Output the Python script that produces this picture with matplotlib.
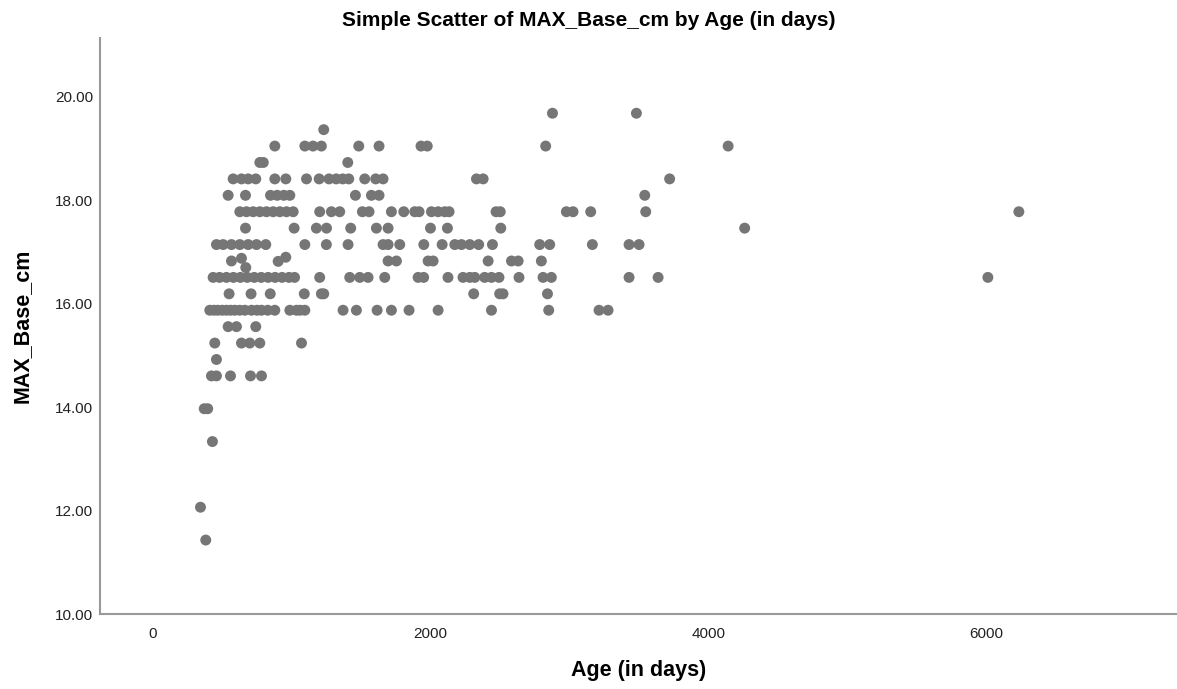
import matplotlib
matplotlib.use("Agg")
import matplotlib.pyplot as plt
import numpy as np

plt.rcParams['font.family'] = ['Liberation Sans', 'DejaVu Sans']

# MAX_Base_cm levels (1/8 inch steps) and the ages (days) observed at each level
age_19_685 = [2876, 3480]
age_19_368 = [1230]
age_19_050 = [878, 1094, 1153, 1213, 1482, 1628, 1930, 1975, 2827, 4140]
age_18_733 = [770, 795, 1403]
age_18_415 = [578, 638, 686, 741, 878, 957, 1106, 1197, 1268, 1320, 1367, 1410,
              1525, 1604, 1657, 2329, 2377, 3719]
age_18_098 = [542, 667, 847, 895, 943, 986, 1458, 1573, 1628, 3540]
age_17_780 = [626, 674, 722, 770, 818, 866, 914, 962, 1010, 1201, 1285, 1345,
              1508, 1556, 1717, 1806, 1885, 1916, 2005, 2053, 2101, 2132, 2470,
              2500, 2976, 3024, 3151, 3547, 6232]
age_17_463 = [667, 1017, 1177, 1250, 1424, 1609, 1693, 1998, 2120, 2504, 4259]
age_17_145 = [458, 506, 566, 626, 686, 746, 813, 1094, 1249, 1405, 1657, 1693,
              1777, 1950, 2082, 2173, 2221, 2281, 2345, 2444, 2784, 2856, 3163,
              3427, 3499]
age_16_828 = [566, 1693, 1753, 1981, 2017, 2413, 2581, 2629, 2796]
age_16_510 = [434, 480, 530, 580, 630, 680, 730, 780, 830, 880, 930, 980, 1020,
              1201, 1417, 1489, 1549, 1669, 1909, 1949, 2124, 2232, 2281, 2317,
              2388, 2437, 2491, 2635, 2808, 2868, 3427, 3636, 6009]
age_16_193 = [549, 707, 845, 1090, 1213, 1230, 2309, 2496, 2520, 2840]
age_15_875 = [410, 440, 468, 500, 530, 560, 590, 625, 662, 710, 750, 782, 827,
              878, 986, 1034, 1060, 1094, 1369, 1465, 1614, 1717, 1844, 2053,
              2437, 2849, 3211, 3276]
age_15_558 = [542, 602, 741]
age_15_240 = [446, 638, 698, 770, 1070]
age_14_923 = [458]
age_14_605 = [422, 458, 559, 703, 782]
age_13_970 = [370, 395]
age_13_335 = [429]
age_12_065 = [343]
age_11_430 = [381]

# off-grid points
extra_age = [638, 669, 902, 957]
extra_base = [16.88, 16.70, 16.82, 16.90]

levels = [19.685, 19.3675, 19.05, 18.7325, 18.415, 18.0975, 17.78, 17.4625,
          17.145, 16.8275, 16.51, 16.1925, 15.875, 15.5575, 15.24, 14.9225,
          14.605, 13.97, 13.335, 12.065, 11.43]
groups = [age_19_685, age_19_368, age_19_050, age_18_733, age_18_415, age_18_098,
          age_17_780, age_17_463, age_17_145, age_16_828, age_16_510, age_16_193,
          age_15_875, age_15_558, age_15_240, age_14_923, age_14_605, age_13_970,
          age_13_335, age_12_065, age_11_430]

ages = []
bases = []
for lv, g in zip(levels, groups):
    ages.extend(g)
    bases.extend([lv] * len(g))
ages.extend(extra_age)
bases.extend(extra_base)

x_ticks = [0, 2000, 4000, 6000]
y_ticks = [10, 12, 14, 16, 18, 20]

fig = plt.figure(figsize=(11.77, 6.89), dpi=100)
ax = fig.add_axes([100 / 1177, 75 / 689, 1 - 100 / 1177, (614 - 38) / 689])

ax.scatter(ages, bases, s=62, color='#767676', edgecolors='none', zorder=3)

ax.set_xlim(-380, 7370)
ax.set_ylim(10, 21.14)
ax.set_xticks(x_ticks)
ax.set_xticklabels([str(v) for v in x_ticks])
ax.set_yticks(y_ticks)
ax.set_yticklabels([f"{v:.2f}" for v in y_ticks])
ax.tick_params(length=0, labelsize=11, colors='#222222', pad=5)
ax.tick_params(axis='x', pad=9)

for s in ['top', 'right']:
    ax.spines[s].set_visible(False)
for s in ['left', 'bottom']:
    ax.spines[s].set_color('#999999')
    ax.spines[s].set_linewidth(1.5)

ax.set_xlabel('Age (in days)', fontsize=15.5, fontweight='bold', labelpad=14)
ax.set_ylabel('MAX_Base_cm', fontsize=15.5, fontweight='bold', labelpad=16)
fig.text(0.5, 1 - 20 / 689, 'Simple Scatter of MAX_Base_cm by Age (in days)',
         ha='center', va='center', fontsize=15, fontweight='bold')

fig.savefig('out.png', dpi=100)
